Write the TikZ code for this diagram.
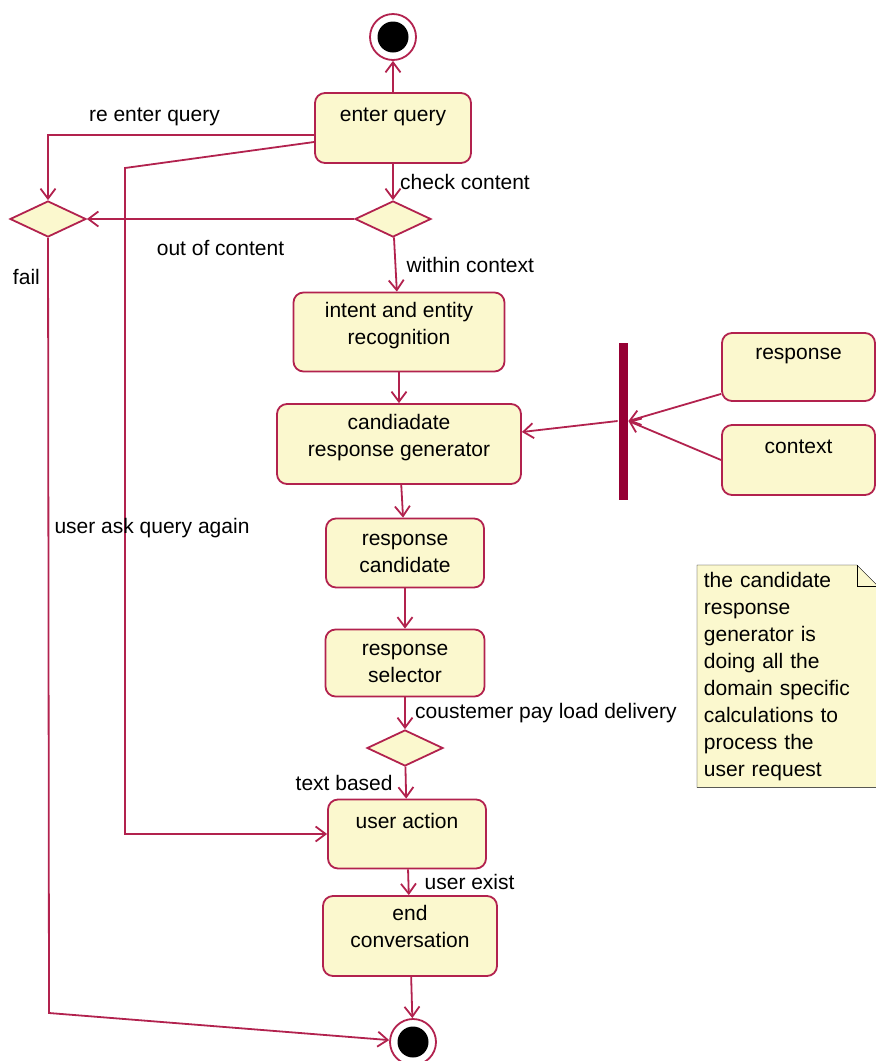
\documentclass[tikz,border=0pt]{standalone}
\usepackage{fontspec}
\setmainfont{Liberation Sans}
\usetikzlibrary{shapes.geometric,arrows.meta,backgrounds}

\definecolor{umlline}{RGB}{178,34,78}
\definecolor{umlbar}{RGB}{150,0,52}
\definecolor{umlfill}{RGB}{251,248,206}

\begin{document}
\begin{tikzpicture}[x=1pt,y=-1pt,->,>={Straight Barb[length=10pt,width=15pt]},line width=1.8pt,color=umlline,text=black,
    font=\fontsize{21}{27}\selectfont,
    activity/.style={rectangle,rounded corners=10pt,draw=umlline,fill=umlfill,align=center,inner sep=2pt},
    decision/.style={diamond,draw=umlline,fill=umlfill,minimum width=76pt,minimum height=36pt,inner sep=0pt,shape aspect=2.1},
    endpoint/.style={circle,draw=umlline,fill=white,minimum size=46pt,inner sep=0pt,
        path picture={\fill[black] (path picture bounding box.center) circle (15.5pt);}},
    syncbar/.style={rectangle,fill=umlbar,minimum width=9pt,minimum height=157pt,inner sep=0pt},
    note text/.style={anchor=north west,align=left,text width=167pt,inner xsep=6pt,inner ysep=6pt}]
    \useasboundingbox (0,0) rectangle (876,1061);

    % main flow
    \node[endpoint] (start) at (393,37) {};
    \node[activity,minimum width=156pt,minimum height=70pt] (eq) [below of=start,node distance=91pt] {enter query\\~};
    \node[decision] (check) [below of=eq,node distance=91pt] {};
    \node[decision] (merge) [left of=check,node distance=345pt] {};
    \node[activity,minimum width=211pt,minimum height=79pt,text depth=17pt] (intent) [below of=check,node distance=113pt,xshift=6pt] {intent and entity\\recognition};
    \node[activity,minimum width=244pt,minimum height=80pt,text depth=18pt] (cand) [below of=intent,node distance=112pt] {candiadate\\response generator};
    \node[activity,minimum width=158pt,minimum height=69pt] (rcand) [below of=cand,node distance=109pt,xshift=6pt] {response\\candidate};
    \node[activity,minimum width=159pt,minimum height=67pt] (sel) [below of=rcand,node distance=110pt] {response\\selector};
    \node[decision] (pay) [below of=sel,node distance=85pt] {};
    \node[activity,minimum width=158pt,minimum height=69pt] (ua) [below of=pay,node distance=86pt,xshift=2pt] {user action\\~};
    \node[activity,minimum width=174pt,minimum height=80pt,text depth=19pt] (endc) [below of=ua,node distance=102pt,xshift=3pt] {end\\conversation};
    \node[endpoint] (stop) [below of=endc,node distance=106pt,xshift=3pt] {};

    % inputs joined at the bar
    \node[syncbar] (bar) at (623,421) {};
    \node[activity,minimum width=153pt,minimum height=68pt] (resp) at (798.5,367) {response\\~};
    \node[activity,minimum width=153pt,minimum height=70pt] (ctx) [below of=resp,node distance=93pt] {context\\~};

    % note
    \node[note text] (note) at (697,565) {the candidate\\response\\generator is\\doing all the\\domain specific\\calculations to\\process the\\user request};
    \begin{scope}[on background layer]
        \draw[-,fill=umlfill] (note.south west) |- ([xshift=-21pt]note.north east) -- ([yshift=-21pt]note.north east) -- (note.south east) -- cycle;
        \draw[-] ([xshift=-21pt]note.north east) |- ([yshift=-21pt]note.north east);
    \end{scope}

    \path
        (eq) edge (start)
        (eq) edge node[right,xshift=3pt] {check content} (check)
        (check) edge node[below=17pt] {out of content} (merge)
        (check) edge node[right,xshift=7pt] {within context} (intent)
        (intent) edge (cand)
        (cand) edge (rcand)
        (rcand) edge (sel)
        (sel) edge node[right,xshift=6pt] {coustemer pay load delivery} (pay)
        (pay) edge node[left,xshift=-9pt] {text based} (ua)
        (ua) edge node[right,xshift=12pt] {user exist} (endc)
        (endc) edge (stop)
    ;

    \path
        ([yshift=8pt]resp.south west) edge (bar.east)
        (ctx.west) edge (bar.east)
        (bar.west) edge ([yshift=12pt]cand.east)
    ;

    % loops back to the start
    \draw ([yshift=-7pt]eq.west) -| node[pos=0.3,above=5pt] {re enter query} (merge);
    \draw ([yshift=-14pt]eq.west) -- (125,168) |- node[pos=0.27,xshift=27pt] {user ask query again} (ua);
    \draw (merge) -- node[left,pos=0.05,xshift=-4pt] {fail} (49,1013) -- (stop);

\end{tikzpicture}
\end{document}
